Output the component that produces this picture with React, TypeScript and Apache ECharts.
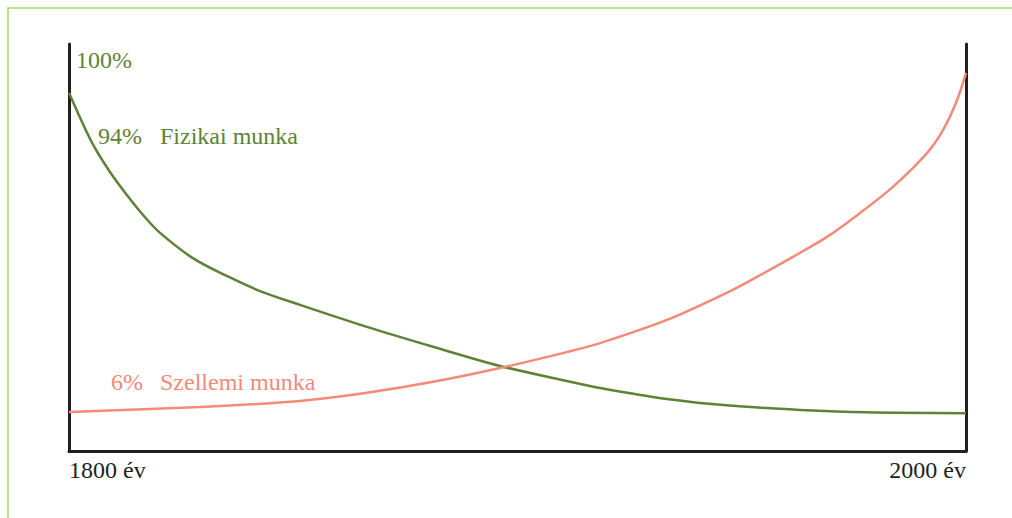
import React, { useEffect, useRef } from "react";
import * as echarts from "echarts";

const fizikaiYears = [1800, 1802.5, 1805.4, 1809.1, 1812.9, 1816.9, 1820.3, 1827.6, 1835.2, 1842.6, 1851.5, 1866.4, 1881.2, 1896.1, 1911.0, 1918.4, 1933.3, 1948.0, 1963.0, 1977.9, 2000];
const fizikaiValues = [88.0, 81.8, 75.2, 68.6, 62.9, 57.5, 53.6, 47.4, 43.0, 39.3, 35.9, 30.5, 25.6, 20.9, 17.2, 15.5, 12.8, 11.1, 10.1, 9.5, 9.3];

const szellemiYears = [1800, 1829.2, 1851.5, 1866.4, 1881.2, 1896.1, 1911.0, 1918.4, 1933.3, 1948.0, 1954.1, 1961.4, 1969.0, 1976.4, 1983.7, 1991.3, 1994.9, 1998.0, 2000];
const szellemiValues = [9.6, 10.8, 12.3, 14.3, 17.0, 20.4, 24.3, 26.5, 32.2, 39.6, 43.2, 47.7, 52.6, 58.5, 64.9, 73.2, 78.9, 86.2, 92.9];

const xTicks = [1800, 2000];
const topLabel = "100%";
const fizikaiLabel = { pct: "94%", name: "Fizikai munka" };
const szellemiLabel = { pct: "6%", name: "Szellemi munka" };

const GREEN = "#5e8236";
const RED = "#f48a78";
const FONT = "'Liberation Serif', serif";
const FS = 24;

export default function App() {
  const ref = useRef<HTMLDivElement>(null);
  useEffect(() => {
    document.body.style.margin = "0";
    if (!ref.current) return;
    const chart = echarts.init(ref.current, null, { renderer: "svg" });
    chart.setOption({
      animation: false,
      grid: { left: 69, right: 46, top: 44, bottom: 67 },
      xAxis: {
        type: "value",
        min: xTicks[0],
        max: xTicks[1],
        interval: 200,
        axisLine: { show: true, lineStyle: { color: "#231f20", width: 3 } },
        axisTick: { show: false },
        splitLine: { show: false },
        axisLabel: {
          formatter: (v: number) => `${v} év`,
          color: "#231f20",
          fontFamily: FONT,
          fontSize: FS,
          margin: 7,
          alignMinLabel: "left",
          alignMaxLabel: "right",
        },
      },
      yAxis: [
        {
          type: "value",
          min: 0,
          max: 100,
          position: "left",
          axisLine: { show: true, lineStyle: { color: "#231f20", width: 3 } },
          axisTick: { show: false },
          axisLabel: { show: false },
          splitLine: { show: false },
        },
        {
          type: "value",
          min: 0,
          max: 100,
          position: "right",
          axisLine: { show: true, lineStyle: { color: "#231f20", width: 3 } },
          axisTick: { show: false },
          axisLabel: { show: false },
          splitLine: { show: false },
        },
      ],
      series: [
        {
          type: "line",
          name: fizikaiLabel.name,
          data: fizikaiYears.map((y, i) => [y, fizikaiValues[i]]),
          smooth: 0.3,
          showSymbol: false,
          lineStyle: { color: GREEN, width: 2.5 },
        },
        {
          type: "line",
          name: szellemiLabel.name,
          data: szellemiYears.map((y, i) => [y, szellemiValues[i]]),
          smooth: 0.3,
          showSymbol: false,
          lineStyle: { color: RED, width: 2.5 },
        },
      ],
      graphic: [
        {
          type: "rect",
          shape: { x: 8, y: 8, width: 1020, height: 530 },
          style: { fill: "none", stroke: "#a9d46e", lineWidth: 1.5 },
          silent: true,
        },
        {
          type: "text",
          x: 76,
          y: 60,
          style: { text: topLabel, fill: GREEN, font: `${FS}px ${FONT}`, verticalAlign: "middle" },
        },
        {
          type: "text",
          x: 98,
          y: 136,
          style: { text: fizikaiLabel.pct, fill: GREEN, font: `${FS}px ${FONT}`, verticalAlign: "middle" },
        },
        {
          type: "text",
          x: 160,
          y: 136,
          style: { text: fizikaiLabel.name, fill: GREEN, font: `${FS}px ${FONT}`, verticalAlign: "middle" },
        },
        {
          type: "text",
          x: 111,
          y: 382,
          style: { text: szellemiLabel.pct, fill: RED, font: `${FS}px ${FONT}`, verticalAlign: "middle" },
        },
        {
          type: "text",
          x: 160,
          y: 382,
          style: { text: szellemiLabel.name, fill: RED, font: `${FS}px ${FONT}`, verticalAlign: "middle" },
        },
      ],
    });
    return () => chart.dispose();
  }, []);
  return <div ref={ref} style={{ width: 1012, height: 518 }} />;
}
